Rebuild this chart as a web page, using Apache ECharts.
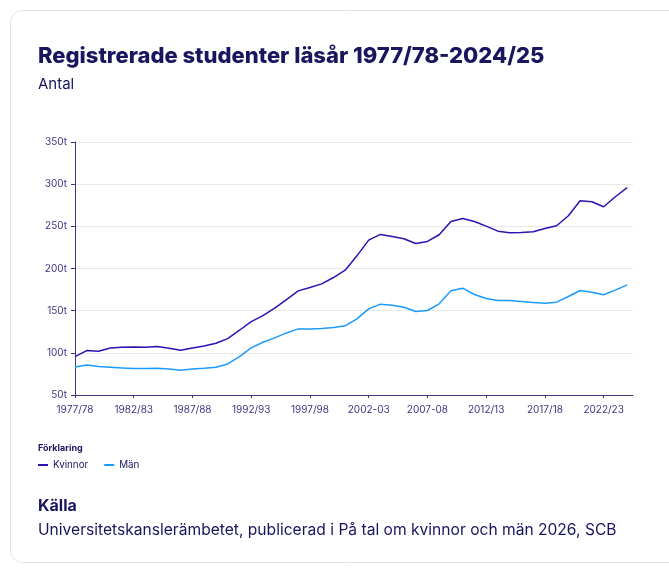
<!DOCTYPE html>
<html>
<head>
<meta charset="utf-8">
<script src="https://cdn.jsdelivr.net/npm/echarts@6/dist/echarts.min.js"></script>
<style>
  html, body { margin: 0; padding: 0; background: #fff; }
  #chart { width: 669px; height: 571px; }
</style>
</head>
<body>
<div id="chart"></div>
<script>
// läsår (48 st)
var years = ['1977/78','1978/79','1979/80','1980/81','1981/82','1982/83','1983/84','1984/85','1985/86','1986/87',
  '1987/88','1988/89','1989/90','1990/91','1991/92','1992/93','1993/94','1994/95','1995/96','1996/97',
  '1997/98','1998/99','1999/00','2000/01','2001/02','2002-03','2003-04','2004-05','2005-06','2006-07',
  '2007-08','2008-09','2009/10','2010/11','2011/12','2012/13','2013/14','2014/15','2015/16','2016/17',
  '2017/18','2018/19','2019/20','2020/21','2021/22','2022/23','2023/24','2024/25'];

// antal i tusental, avläst
var kvinnor = [95.5,102.7,101.9,105.8,106.6,107.0,106.6,107.4,105.4,103.0,
  105.8,108.2,111.4,116.9,126.8,137.1,144.2,152.9,163.2,173.5,
  177.5,181.8,189.3,198.0,215.0,233.7,240.4,238.0,235.2,229.7,
  232.1,240.0,255.8,259.4,255.8,250.3,244.3,242.4,242.8,243.5,
  247.5,250.7,262.5,280.4,279.2,273.2,285.1,295.8];

var man = [83.3,85.6,83.7,82.9,82.1,81.3,81.3,81.7,80.9,79.3,
  80.9,81.7,82.9,86.8,95.5,105.8,112.6,117.7,123.6,128.4,
  128.4,128.8,130.0,132.0,140.3,152.1,157.7,156.5,154.1,149.0,
  150.2,158.1,173.5,176.7,169.2,164.4,162.1,162.1,160.9,159.7,
  158.9,160.1,166.8,173.9,171.9,168.8,174.3,180.6];

var xTicks = [0,5,10,15,20,25,30,35,40,45];

var navy = '#1a155f';
var axisCol = '#3d3782';
var font = 'Inter';

function toPairs(arr){
  var out = [];
  for(var i=0;i<arr.length;i++){
    out.push([i, arr[i]]);
  }
  return out;
}

var myChart = echarts.init(document.getElementById('chart'), null, {renderer:'canvas'});

var option = {
  animation: false,
  backgroundColor: '#ffffff',
  textStyle: { fontFamily: font },
  graphic: [
    {
      type: 'rect',
      z: -10,
      shape: { x: 10.5, y: 10.5, width: 700, height: 552, r: 12 },
      style: { fill: '#ffffff', stroke: '#e4e4e4', lineWidth: 1 }
    }
  ],
  title: [
    { text: 'Registrerade studenter läsår 1977/78-2024/25', left: 33, top: 40.5,
      textStyle: { fontFamily: font, fontSize: 22, fontWeight: 800, color: navy } },
    { text: 'Antal', left: 33, top: 71.5,
      textStyle: { fontFamily: font, fontSize: 15, fontWeight: 400, color: navy } },
    { text: 'Förklaring', left: 33, top: 439,
      textStyle: { fontFamily: font, fontSize: 9, fontWeight: 700, color: navy } },
    { text: 'Källa', left: 33, top: 493.5,
      textStyle: { fontFamily: font, fontSize: 16, fontWeight: 700, color: navy } },
    { text: 'Universitetskanslerämbetet, publicerad i På tal om kvinnor och män 2026, SCB', left: 33, top: 517,
      textStyle: { fontFamily: font, fontSize: 15.6, fontWeight: 400, color: navy } }
  ],
  legend: {
    left: 33,
    top: 455,
    icon: 'rect',
    itemWidth: 10,
    itemHeight: 2,
    itemGap: 16,
    textStyle: { fontFamily: font, fontSize: 9.8, color: navy },
    data: ['Kvinnor','Män']
  },
  grid: { left: 75, right: 36, top: 142, bottom: 176, containLabel: false },
  xAxis: {
    type: 'value',
    min: 0,
    max: 47.5,
    splitLine: { show: false },
    axisLine: { show: true, lineStyle: { color: axisCol, width: 1 } },
    axisTick: { show: true, length: 3, customValues: xTicks, lineStyle: { color: axisCol } },
    axisLabel: {
      customValues: xTicks,
      margin: 10,
      fontSize: 10,
      fontFamily: font,
      color: axisCol,
      formatter: function(v){ return years[v] || ''; }
    }
  },
  yAxis: {
    type: 'value',
    min: 50,
    max: 350,
    interval: 50,
    axisLine: { show: true, lineStyle: { color: axisCol, width: 1 } },
    axisTick: { show: true, length: 4, lineStyle: { color: axisCol } },
    splitLine: { show: true, lineStyle: { color: '#e8e8e8', width: 1 } },
    axisLabel: {
      margin: 8,
      fontSize: 10,
      fontFamily: font,
      color: axisCol,
      formatter: function(v){ return v + 't'; }
    }
  },
  series: [
    {
      name: 'Kvinnor',
      type: 'line',
      data: toPairs(kvinnor),
      showSymbol: false,
      symbol: 'none',
      color: '#2c12b3',
      lineStyle: { width: 1.5, color: '#2c12b3' }
    },
    {
      name: 'Män',
      type: 'line',
      data: toPairs(man),
      showSymbol: false,
      symbol: 'none',
      color: '#1b9bff',
      lineStyle: { width: 1.5, color: '#1b9bff' }
    }
  ]
};
myChart.setOption(option, true);
</script>
</body>
</html>
